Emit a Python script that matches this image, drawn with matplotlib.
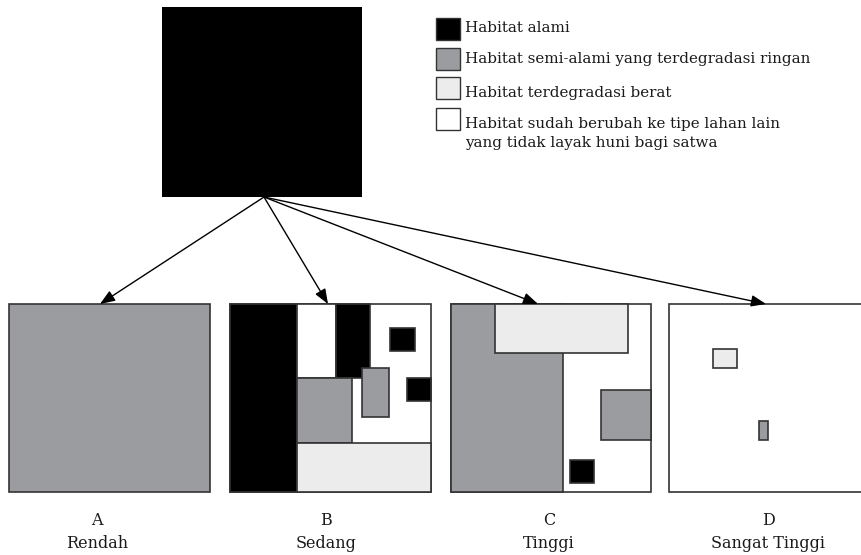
import matplotlib.pyplot as plt
from matplotlib.patches import Rectangle

# fill colours for the habitat classes
colors = {'alami': '#000000', 'semi': '#9b9ca0', 'berat': '#ececec', 'lain': '#ffffff'}
edge = '#333333'

# patches (x0, y0, x1, y1, class) in picture pixels
top_patch = [(162, 7, 362, 197, 'alami')]
panel_a = [(9, 304, 210, 492, 'semi')]
panel_b = [(230, 304, 431, 492, 'lain'),
           (230, 304, 297, 492, 'alami'),
           (297, 304, 336, 378, 'lain'),
           (336, 304, 370, 378, 'alami'),
           (297, 378, 352, 443, 'semi'),
           (297, 443, 431, 492, 'berat'),
           (362, 368, 389, 417, 'semi'),
           (390, 328, 415, 351, 'alami'),
           (407, 378, 431, 401, 'alami')]
panel_c = [(451, 304, 651, 492, 'lain'),
           (451, 304, 563, 492, 'semi'),
           (495, 304, 628, 353, 'berat'),
           (601, 390, 651, 440, 'semi'),
           (570, 460, 594, 483, 'alami')]
panel_d = [(669, 304, 869, 492, 'lain'),
           (713, 349, 737, 368, 'berat'),
           (759, 421, 768, 440, 'semi')]

# arrows from the top square to each panel
arrow_start = (264, 197)
arrow_ends = [(100, 304), (328, 304), (538, 304), (766, 304)]

# labels under the panels
letters = ['A', 'B', 'C', 'D']
levels = ['Rendah', 'Sedang', 'Tinggi', 'Sangat Tinggi']
label_x = [97, 326, 549, 768]

# legend
legend_keys = ['alami', 'semi', 'berat', 'lain']
legend_texts = ['Habitat alami',
                'Habitat semi-alami yang terdegradasi ringan',
                'Habitat terdegradasi berat',
                'Habitat sudah berubah ke tipe lahan lain',
                'yang tidak layak huni bagi satwa']
legend_box_y = [18, 48, 77, 108]
legend_base_y = [32, 63.5, 96.5, 128, 147]

fig = plt.figure(figsize=(8.61, 5.55), dpi=100)
ax = fig.add_axes([0, 0, 1, 1])
ax.set_xlim(0, 861)
ax.set_ylim(555, 0)
ax.axis('off')

for patches in [top_patch, panel_a, panel_b, panel_c, panel_d]:
    for x0, y0, x1, y1, kind in patches:
        lw = 0 if patches is top_patch else 1.2
        ax.add_patch(Rectangle((x0, y0), x1 - x0, y1 - y0, facecolor=colors[kind],
                               edgecolor=edge, lw=lw))

for xe, ye in arrow_ends:
    ax.annotate('', xy=(xe, ye), xytext=arrow_start,
                arrowprops=dict(arrowstyle='-|>,head_length=0.9,head_width=0.35',
                                color='k', lw=1, shrinkA=0, shrinkB=0))

font = dict(family='DejaVu Serif', color='#1a1a1a')
for x, letter, level in zip(label_x, letters, levels):
    ax.text(x, 525, letter, ha='center', va='baseline', fontsize=11.5, **font)
    ax.text(x, 548, level, ha='center', va='baseline', fontsize=11.5, **font)

for y, key in zip(legend_box_y, legend_keys):
    ax.add_patch(Rectangle((436, y), 24, 22, facecolor=colors[key], edgecolor=edge, lw=1))
for y, txt in zip(legend_base_y, legend_texts):
    ax.text(465, y, txt, ha='left', va='baseline', fontsize=10.9, **font)

fig.savefig('out.png', dpi=100)
